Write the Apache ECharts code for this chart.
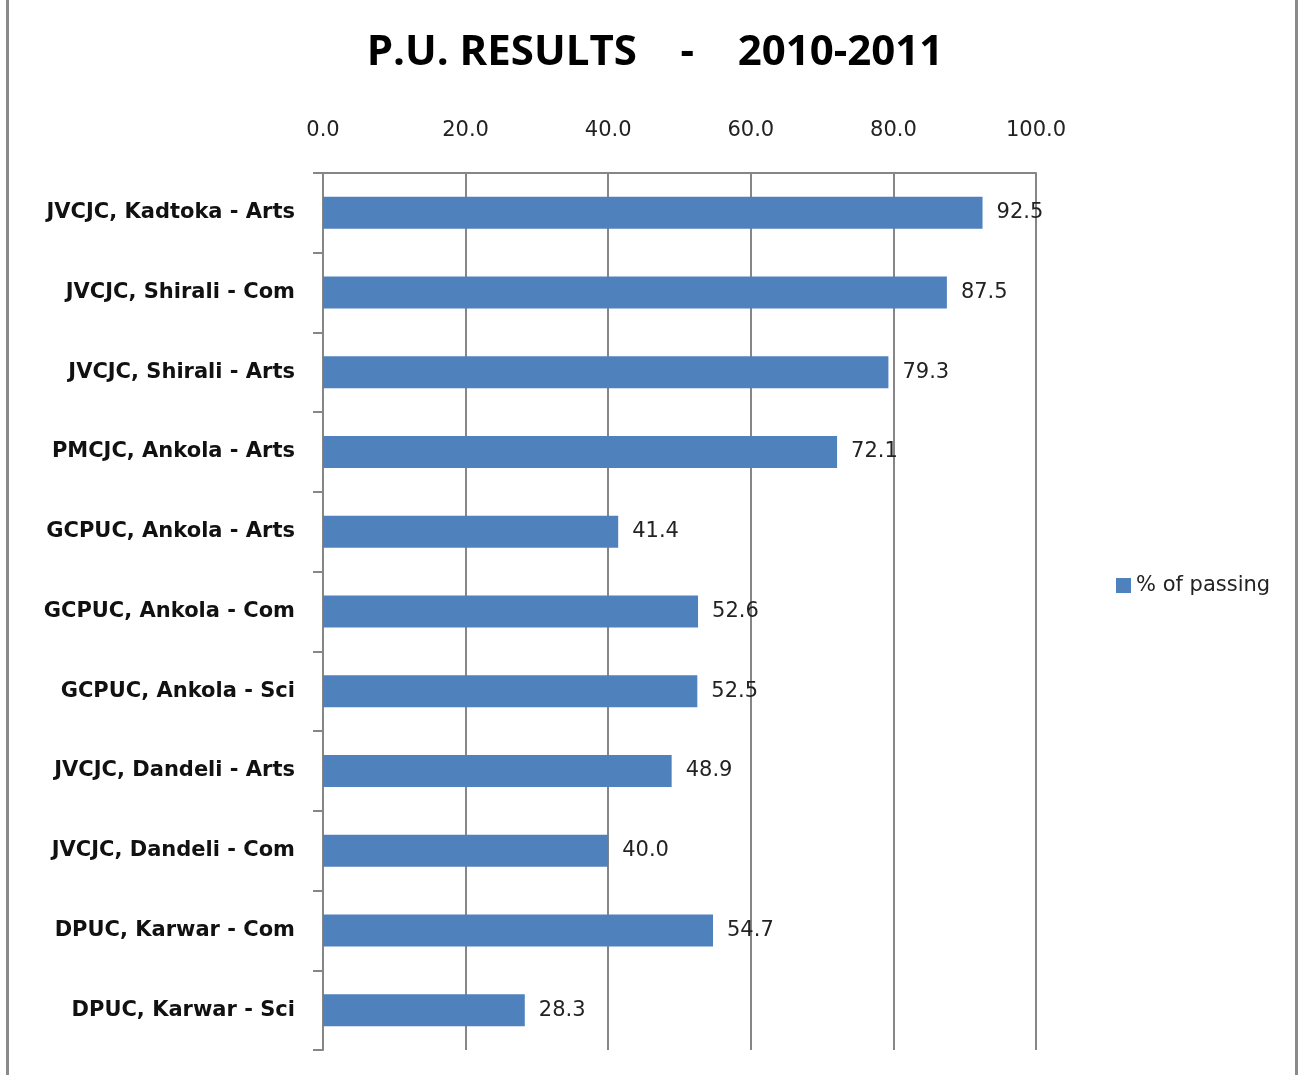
<!DOCTYPE html>
<html>
<head>
<meta charset="utf-8">
<script src="https://cdn.jsdelivr.net/npm/echarts@6/dist/echarts.min.js"></script>
<style>
    html, body { margin: 0; padding: 0; background: #fff; }
    #frame {
        position: absolute; left: 6px; top: 0; width: 1292px; height: 1075px;
        border-left: 3px solid #8a8a8a; border-right: 3px solid #8a8a8a;
        box-sizing: border-box;
    }
    #chart { position: absolute; left: 0; top: 0; width: 1308px; height: 1075px; }
</style>
</head>
<body>
<div id="frame"></div>
<div id="chart"></div>
<script>
    const categories = [
        'JVCJC, Kadtoka - Arts',
        'JVCJC, Shirali - Com',
        'JVCJC, Shirali - Arts',
        'PMCJC, Ankola - Arts',
        'GCPUC, Ankola - Arts',
        'GCPUC, Ankola - Com',
        'GCPUC, Ankola - Sci',
        'JVCJC, Dandeli - Arts',
        'JVCJC, Dandeli - Com',
        'DPUC, Karwar - Com',
        'DPUC, Karwar - Sci'
    ];
    const passing = [92.5, 87.5, 79.3, 72.1, 41.4, 52.6, 52.5, 48.9, 40.0, 54.7, 28.3];
    const seriesName = '% of passing';
    const titleText = 'P.U. RESULTS    -    2010-2011';

    const font = '"DejaVu Sans", "Open Sans", sans-serif';
    const titleFont = '"Open Sans", sans-serif';
    const chart = echarts.init(document.getElementById('chart'));
    const option = {
        animation: false,
        title: {
            text: titleText,
            left: 650,
            textAlign: 'center',
            top: 27,
            textStyle: { fontFamily: titleFont, fontSize: 42, fontWeight: 'bold', color: '#000' }
        },
        legend: {
            data: [seriesName],
            left: 1111,
            top: 570,
            itemWidth: 15,
            itemHeight: 15,
            itemGap: 6,
            icon: 'rect',
            textStyle: { fontFamily: font, fontSize: 21, color: '#222' }
        },
        grid: { left: 323, right: 272, top: 173, bottom: 25 },
        xAxis: {
            type: 'value',
            position: 'top',
            min: 0,
            max: 100,
            interval: 20,
            axisLine: { show: true, lineStyle: { color: '#868686', width: 2 } },
            axisTick: { show: false },
            axisLabel: {
                fontFamily: font, fontSize: 21, color: '#222', margin: 32,
                formatter: v => v.toFixed(1)
            },
            splitLine: { show: true, lineStyle: { color: '#868686', width: 2 } }
        },
        yAxis: {
            type: 'category',
            inverse: true,
            data: categories,
            axisLine: { show: true, lineStyle: { color: '#868686', width: 2 } },
            axisTick: { show: true, length: 10, lineStyle: { color: '#868686', width: 2 } },
            axisLabel: {
                fontFamily: font, fontSize: 21, fontWeight: 'bold', color: '#111', margin: 28
            }
        },
        series: [{
            name: seriesName,
            type: 'bar',
            data: passing,
            barWidth: 32,
            itemStyle: { color: '#4F81BD' },
            label: {
                show: true,
                position: 'right',
                distance: 14,
                fontFamily: font,
                fontSize: 21,
                color: '#222',
                formatter: p => p.value.toFixed(1)
            }
        }]
    };
    chart.setOption(option);
</script>
</body>
</html>
